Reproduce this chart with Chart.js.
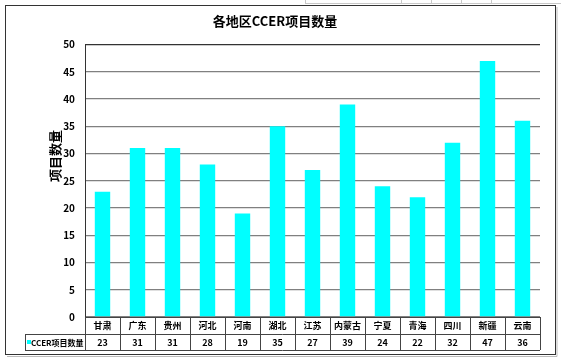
<!DOCTYPE html>
<html>
<head>
<meta charset="utf-8">
<style>
  html, body { margin: 0; padding: 0; background: #fff; }
  #wrap { width: 561px; height: 360px; position: relative; }
</style>
</head>
<body>
<div id="wrap"><canvas id="myChart" width="561" height="360"></canvas></div>
<script src="https://cdn.jsdelivr.net/npm/chart.js@4.4.1/dist/chart.umd.min.js"></script>
<script>
var regions = ["甘肃", "广东", "贵州", "河北", "河南", "湖北", "江苏", "内蒙古", "宁夏", "青海", "四川", "新疆", "云南"];
var counts = [23, 31, 31, 28, 19, 35, 27, 39, 24, 22, 32, 47, 36];
var seriesName = "CCER项目数量";
var chartTitle = "各地区CCER项目数量";
var axisTitle = "项目数量";

var FONT = "'Noto Sans CJK SC', 'DejaVu Sans', sans-serif";

// draws the outer frame, y title and the data table below the bars
var tablePlugin = {
	id: "table",
	afterDraw: function(chart){
		var ctx = chart.ctx;
		var x = chart.scales.x;
		var area = chart.chartArea;
		var row1 = area.bottom;
		var row2 = row1 + 17;
		var row3 = row2 + 16;
		var legendLeft = 25;
		var step = (area.right - area.left) / regions.length;

		ctx.save();
		// spreadsheet remnants at the top
		ctx.strokeStyle = "#c8c8c8";
		ctx.lineWidth = 1;
		ctx.beginPath();
		ctx.moveTo(305, 3.5); ctx.lineTo(561, 3.5);
		[305.5, 401.5, 431.5, 461.5, 491.5].forEach(function(px){ ctx.moveTo(px, 0); ctx.lineTo(px, 4); });
		ctx.stroke();

		// frame
		ctx.strokeStyle = "#333";
		ctx.lineWidth = 1;
		ctx.strokeRect(5.5, 5.5, 550, 349);
		ctx.strokeStyle = "#bbb";
		ctx.beginPath();
		ctx.moveTo(557, 7); ctx.lineTo(557, 356.5); ctx.lineTo(7, 356.5);
		ctx.stroke();

		// table grid
		ctx.strokeStyle = "#444";
		ctx.lineWidth = 1;
		ctx.beginPath();
		ctx.moveTo(area.left, row1 + 0.5); ctx.lineTo(area.right, row1 + 0.5);
		ctx.moveTo(legendLeft, row2 + 0.5); ctx.lineTo(area.right, row2 + 0.5);
		ctx.moveTo(legendLeft, row3 + 0.5); ctx.lineTo(area.right, row3 + 0.5);
		ctx.moveTo(legendLeft + 0.5, row2); ctx.lineTo(legendLeft + 0.5, row3);
		for(var i = 0; i <= regions.length; i++){
			var px = Math.round(area.left + i * step) + 0.5;
			ctx.moveTo(px, row1); ctx.lineTo(px, row3);
		}
		ctx.stroke();

		// values row
		ctx.fillStyle = "#000";
		ctx.font = "bold 9px " + FONT;
		ctx.textAlign = "center";
		ctx.textBaseline = "middle";
		for(var j = 0; j < counts.length; j++){
			ctx.fillText(String(counts[j]), x.getPixelForValue(j), (row2 + row3) / 2 + 1);
		}

		// legend key
		ctx.fillStyle = "#00ffff";
		ctx.fillRect(legendLeft + 2, (row2 + row3) / 2 - 2, 4, 4);
		ctx.fillStyle = "#000";
		ctx.textAlign = "left";
		ctx.font = "bold 8px " + FONT;
		ctx.fillText(seriesName, legendLeft + 6, (row2 + row3) / 2 + 1);

		// y title, rotated to read bottom-up
		ctx.translate(55, 156);
		ctx.rotate(-Math.PI / 2);
		ctx.font = "bold 13px " + FONT;
		ctx.textAlign = "center";
		ctx.fillText(axisTitle, 0, 0);
		ctx.restore();
	}
};

var ctx = document.getElementById("myChart").getContext("2d");
var myChart = new Chart(ctx, {
	type: "bar",
	data: {
		labels: regions,
		datasets: [{
			label: seriesName,
			data: counts,
			backgroundColor: "#00ffff",
			borderWidth: 0,
			categoryPercentage: 1,
			barPercentage: 0.44
		}]
	},
	options: {
		responsive: false,
		animation: false,
		layout: { padding: { left: 10, right: 21, top: 0, bottom: 26 } },
		plugins: {
			legend: { display: false },
			tooltip: { enabled: false },
			title: {
				display: true,
				text: chartTitle,
				color: "#000",
				font: { family: FONT, size: 13, weight: "bold" },
				padding: { top: 13, bottom: 16 }
			}
		},
		scales: {
			x: {
				afterFit: function(scale){ scale.height = 17; },
				grid: { display: false, drawTicks: false },
				border: { display: false },
				ticks: {
					color: "#000",
					font: { family: FONT, size: 9, weight: "bold" },
					padding: 3,
					maxRotation: 0,
					autoSkip: false
				}
			},
			y: {
				min: 0,
				max: 50,
				afterFit: function(scale){ scale.width = 75; },
				grid: {
					color: function(c){ return c.tick.value === 50 ? "#333" : "#808080"; },
					lineWidth: 1.3,
					drawTicks: false
				},
				border: { display: true, color: "#333", width: 1 },
				ticks: {
					stepSize: 5,
					color: "#000",
					font: { family: FONT, size: 10, weight: "bold" },
					padding: 10
				}
			}
		}
	},
	plugins: [tablePlugin]
});
</script>
</body>
</html>
